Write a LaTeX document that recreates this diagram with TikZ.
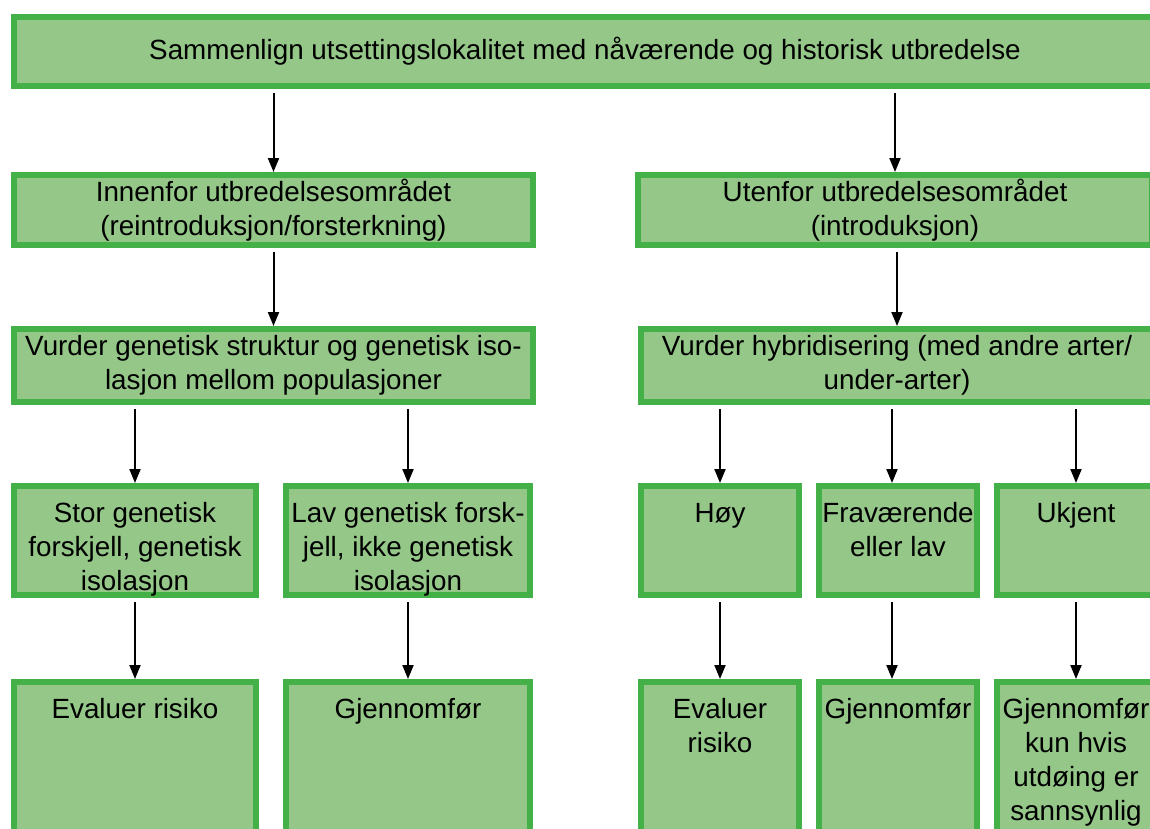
\documentclass[tikz,border=0pt]{standalone}
\usepackage{fontspec}
\setmainfont{Liberation Sans}
\usetikzlibrary{arrows.meta}

\definecolor{boxfill}{RGB}{148,199,136}
\definecolor{boxline}{RGB}{68,176,72}
% text at the top of a tall box
\newcommand{\toptxt}[3]{\parbox[c][#2][t]{#1}{\centering\rule{0pt}{36pt}#3}}

\begin{document}
\begin{tikzpicture}[x=1pt,y=-1pt,>={Triangle[length=14pt,width=11pt]},
    frame/.style={draw=boxline,fill=boxfill,line width=6pt,inner sep=0pt,
      font=\fontsize{27.8}{34}\selectfont},
    box/.style={frame,align=center},
    flow/.style={->,line width=2pt,shorten <=4pt}]
   \useasboundingbox (0,0) rectangle (1150,828);
   % level 1
   \node[box,minimum width=1142pt,minimum height=69pt] (cmp) at (585,51.5)
     {Sammenlign utsettingslokalitet med nåværende og historisk utbredelse};
   % level 2
   \node[box,minimum width=519pt,minimum height=70pt] (inside) at (273.5,210)
     {Innenfor utbredelsesområdet\\(reintroduksjon/forsterkning)};
   \node[box,minimum width=514pt,minimum height=70pt] (outside) at (895,210)
     {Utenfor utbredelsesområdet\\(introduksjon)};
   % level 3
   \node[box,minimum width=519pt,minimum height=73pt] (genstr) at (273.5,365.5)
     {Vurder genetisk struktur og genetisk iso-\\lasjon mellom populasjoner};
   \node[box,minimum width=512pt,minimum height=73pt] (hybrid) at (897,365.5)
     {Vurder hybridisering (med andre arter/\\under-arter)};
   % level 4
   \node[frame] (bigdiff) at (135,540.5)
     {\toptxt{242pt}{109pt}{Stor genetisk\\forskjell, genetisk\\isolasjon}};
   \node[frame] (lowdiff) at (408,540.5)
     {\toptxt{244pt}{109pt}{Lav genetisk forsk-\\jell, ikke genetisk\\isolasjon}};
   \node[frame] (high) at (720,540.5) {\toptxt{158pt}{109pt}{Høy}};
   \node[frame] (low) at (898,540.5) {\toptxt{158pt}{109pt}{Fraværende\\eller lav}};
   \node[frame] (unknown) at (1076,540.5) {\toptxt{158pt}{109pt}{Ukjent}};
   % level 5
   \node[frame] (riskA) at (135,766) {\toptxt{242pt}{168pt}{Evaluer risiko}};
   \node[frame] (doA) at (408,766) {\toptxt{244pt}{168pt}{Gjennomfør}};
   \node[frame] (riskB) at (720,766) {\toptxt{158pt}{168pt}{Evaluer\\risiko}};
   \node[frame] (doB) at (898,766) {\toptxt{158pt}{168pt}{Gjennomfør}};
   \node[frame] (doC) at (1076,766)
     {\toptxt{158pt}{168pt}{Gjennomfør\\kun hvis\\utdøing er\\sannsynlig}};
   % arrows
   \draw[flow] (cmp.south -| inside.north) -- (inside.north);
   \draw[flow] (cmp.south -| outside.north) -- (outside.north);
   \draw[flow] (inside) -- (genstr);
   \draw[flow] (outside.south -| hybrid.north) -- (hybrid.north);
   \foreach \a/\b in {genstr/bigdiff,genstr/lowdiff,hybrid/high,hybrid/unknown,
       bigdiff/riskA,lowdiff/doA,high/riskB,unknown/doC}
     \draw[flow] (\a.south -| \b.north) -- (\b.north);
   \draw[flow] ([xshift=-6pt]hybrid.south -| low.north) -- ([xshift=-6pt]low.north);
   \draw[flow] ([xshift=-6pt]low.south) -- ([xshift=-6pt]doB.north);
\end{tikzpicture}
\end{document}
